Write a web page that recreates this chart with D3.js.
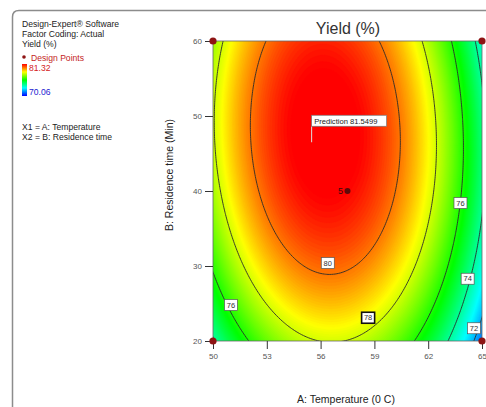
<!DOCTYPE html>
<html lang="en">
<head>
  <meta charset="UTF-8">
  <title>Yield contour</title>
  <style>
    body { margin: 0; background: #fff; }
    text { font-family: "Liberation Sans", Arial, sans-serif; }
  </style>
</head>
<body>
  <script src="https://cdn.jsdelivr.net/npm/d3@7"></script>
  <script>
    // axis ticks
    var tempTicks = [50, 53, 56, 59, 62, 65];
    var timeTicks = [20, 30, 40, 50, 60];
    // quadratic model in coded units: const, A, B, AB, A^2, B^2
    var coefs = [81.27, -1.64, 1.40, -0.36, -5.40, -1.90];
    var levels = [72, 74, 76, 78, 80];
    // design points
    var designA = [50, 65, 50, 65, 57.5];
    var designB = [20, 20, 60, 60, 40];
    var designReps = [1, 1, 1, 1, 5];
    // contour labels (level, position in factor units)
    var labelLevel = [80, 78, 76, 76, 74, 72];
    var labelA = [56.4, 58.65, 51.0, 63.8, 64.2, 64.55];
    var labelB = [30.4, 23.1, 24.8, 38.4, 28.3, 21.7];
    // prediction flag
    var predA = 55.5, predB = 46.5, predValue = "81.5499";
    // colour range
    var yieldMin = 70.06, yieldMax = 81.32;
    var legendLines = ["Design-Expert\u00ae Software", "Factor Coding: Actual", "Yield (%)"];
    var factorLines = ["X1 = A: Temperature", "X2 = B: Residence time"];

    var width = 486, height = 407;
    var svg = d3.select("body").append("svg")
      .attr("width", width)
      .attr("height", height);

    var x = d3.scaleLinear().domain([50, 65]).range([213, 482]);
    var y = d3.scaleLinear().domain([20, 60]).range([341, 41]);

    var stops = ["#0000ff", "#00ffff", "#00ff00", "#ffff00", "#ff0000"];
    var color = d3.scaleLinear()
      .domain(d3.range(stops.length).map(function(i){ return yieldMin + i * (yieldMax - yieldMin) / (stops.length - 1); }))
      .range(stops)
      .interpolate(d3.interpolateRgb)
      .clamp(true);

    function yieldAt(A, B) {
      var a = (A - 57.5) / 7.5, b = (B - 40) / 20;
      return coefs[0] + coefs[1] * a + coefs[2] * b + coefs[3] * a * b + coefs[4] * a * a + coefs[5] * b * b;
    }

    // outer frame
    svg.append("path")
      .attr("d", "M12.5,407 L12.5,17 Q12.5,10.5 19,10.5 L486,10.5")
      .attr("fill", "none")
      .attr("stroke", "#8c8c8c")
      .attr("stroke-width", 1.5);

    // grid for contours
    var a0 = 49.6, a1 = 65.4, b0 = 19.5, b1 = 60.5;
    var nx = 161, ny = 171;
    var stepA = (a1 - a0) / (nx - 1), stepB = (b1 - b0) / (ny - 1);
    var values = new Array(nx * ny);
    for (var j = 0; j < ny; j++) {
      for (var i = 0; i < nx; i++) {
        values[j * nx + i] = yieldAt(a0 + i * stepA, b0 + j * stepB);
      }
    }
    var proj = d3.geoTransform({
      point: function(u, v) {
        this.stream.point(x(a0 + (u - 0.5) * stepA), y(b0 + (v - 0.5) * stepB));
      }
    });
    var path = d3.geoPath(proj);

    svg.append("clipPath").attr("id", "plotclip")
      .append("rect")
      .attr("x", x(50)).attr("y", y(60))
      .attr("width", x(65) - x(50)).attr("height", y(20) - y(60));

    var plot = svg.append("g").attr("clip-path", "url(#plotclip)");

    var bandStep = 0.08;
    var fillThresholds = d3.range(69.0, 82.0, bandStep);
    var bands = d3.contours().size([nx, ny]).thresholds(fillThresholds)(values);
    plot.selectAll("path.band")
      .data(bands)
      .enter()
      .append("path")
      .attr("class", "band")
      .attr("d", path)
      .attr("fill", function(d){ return color(d.value + bandStep / 2); })
      .attr("stroke", function(d){ return color(d.value + bandStep / 2); })
      .attr("stroke-width", 0.3);

    var lines = d3.contours().size([nx, ny]).thresholds(levels)(values);
    plot.selectAll("path.level")
      .data(lines)
      .enter()
      .append("path")
      .attr("class", "level")
      .attr("d", path)
      .attr("fill", "none")
      .attr("stroke", "#2a2a2a")
      .attr("stroke-width", 0.9);

    // plot border
    svg.append("rect")
      .attr("x", x(50)).attr("y", y(60))
      .attr("width", x(65) - x(50)).attr("height", y(20) - y(60))
      .attr("fill", "none")
      .attr("stroke", "#666")
      .attr("stroke-width", 0.8);

    // contour labels
    var lab = svg.selectAll("g.clab")
      .data(labelLevel)
      .enter()
      .append("g")
      .attr("class", "clab")
      .attr("transform", function(d, i){ return "translate(" + x(labelA[i]) + "," + y(labelB[i]) + ")"; });
    lab.append("rect")
      .attr("x", -6.5).attr("y", -5.5)
      .attr("width", 13).attr("height", 11)
      .attr("fill", "#fff")
      .attr("stroke", function(d, i){ return i === 1 ? "#111" : "#555"; })
      .attr("stroke-width", function(d, i){ return i === 1 ? 1.6 : 0.7; });
    lab.append("text")
      .attr("text-anchor", "middle")
      .attr("dy", "0.35em")
      .attr("font-size", "7.5px")
      .attr("fill", "#333")
      .text(function(d){ return d; });

    // axes
    var xAxis = svg.append("g")
      .attr("transform", "translate(0," + y(20) + ")")
      .call(d3.axisBottom(x).tickValues(tempTicks).tickSize(8).tickSizeOuter(0).tickPadding(4));
    var yAxis = svg.append("g")
      .attr("transform", "translate(" + x(50) + ",0)")
      .call(d3.axisLeft(y).tickValues(timeTicks).tickSize(8).tickSizeOuter(0).tickPadding(3));
    [xAxis, yAxis].forEach(function(g){
      g.select(".domain").remove();
      g.selectAll(".tick line").attr("stroke", "#333").attr("stroke-width", 1);
      g.selectAll(".tick text")
        .attr("fill", "#555")
        .attr("font-size", "8px")
        .attr("font-family", "\"Liberation Sans\", Arial, sans-serif");
    });

    // design points
    svg.selectAll("circle.dp")
      .data(designA)
      .enter()
      .append("circle")
      .attr("class", "dp")
      .attr("cx", function(d){ return x(d); })
      .attr("cy", function(d, i){ return y(designB[i]); })
      .attr("r", function(d, i){ return designReps[i] > 1 ? 3 : 3.6; })
      .attr("fill", function(d, i){ return designReps[i] > 1 ? "#5e0a0a" : "#8e1414"; });
    svg.selectAll("text.rep")
      .data(designA.filter(function(d, i){ return designReps[i] > 1; }))
      .enter()
      .append("text")
      .attr("class", "rep")
      .attr("x", function(d){ return x(d) - 4.5; })
      .attr("y", y(designB[4]) + 3)
      .attr("text-anchor", "end")
      .attr("font-size", "9px")
      .attr("fill", "#3a0a0a")
      .text(designReps[4]);

    // prediction flag
    var px = x(predA), py = y(predB);
    svg.append("line")
      .attr("x1", px).attr("y1", py)
      .attr("x2", px).attr("y2", py - 16)
      .attr("stroke", "#ddd")
      .attr("stroke-width", 1);
    svg.append("rect")
      .attr("x", px).attr("y", py - 27)
      .attr("width", 75).attr("height", 11)
      .attr("fill", "#fff")
      .attr("stroke", "#777")
      .attr("stroke-width", 0.7);
    svg.append("text")
      .attr("x", px + 2.5).attr("y", py - 18.5)
      .attr("font-size", "7.6px")
      .attr("fill", "#222")
      .text("Prediction " + predValue);

    // title and axis titles
    svg.append("text")
      .attr("x", 348).attr("y", 34)
      .attr("text-anchor", "middle")
      .attr("font-size", "16px")
      .attr("fill", "#333")
      .text("Yield (%)");
    svg.append("text")
      .attr("x", 346).attr("y", 403)
      .attr("text-anchor", "middle")
      .attr("font-size", "10.5px")
      .attr("fill", "#222")
      .text("A: Temperature (0 C)");
    svg.append("text")
      .attr("transform", "translate(173,175) rotate(-90)")
      .attr("text-anchor", "middle")
      .attr("font-size", "10.5px")
      .attr("fill", "#222")
      .text("B: Residence time (Min)");

    // legend block
    var leg = svg.append("g").attr("font-size", "8.6px");
    leg.selectAll("text.ll")
      .data(legendLines)
      .enter()
      .append("text")
      .attr("class", "ll")
      .attr("x", 22)
      .attr("y", function(d, i){ return 27 + i * 10; })
      .attr("fill", "#222")
      .text(function(d){ return d; });
    leg.append("circle").attr("cx", 24).attr("cy", 57).attr("r", 1.8).attr("fill", "#8e1414");
    leg.append("text").attr("x", 31).attr("y", 60.5).attr("fill", "#c41c1c").text("Design Points");

    var grad = svg.append("defs").append("linearGradient")
      .attr("id", "cbar")
      .attr("x1", 0).attr("y1", 1).attr("x2", 0).attr("y2", 0);
    grad.selectAll("stop")
      .data(stops)
      .enter()
      .append("stop")
      .attr("offset", function(d, i){ return i / (stops.length - 1); })
      .attr("stop-color", function(d){ return d; });
    leg.append("rect").attr("x", 22).attr("y", 64).attr("width", 5).attr("height", 32).attr("fill", "url(#cbar)");
    leg.append("text").attr("x", 29).attr("y", 71).attr("fill", "#d42020").text(yieldMax.toFixed(2));
    leg.append("text").attr("x", 29).attr("y", 95).attr("fill", "#1a1ad0").text(yieldMin.toFixed(2));

    leg.selectAll("text.fl")
      .data(factorLines)
      .enter()
      .append("text")
      .attr("class", "fl")
      .attr("x", 22)
      .attr("y", function(d, i){ return 130 + i * 10; })
      .attr("fill", "#222")
      .text(function(d){ return d; });
  </script>
</body>
</html>
